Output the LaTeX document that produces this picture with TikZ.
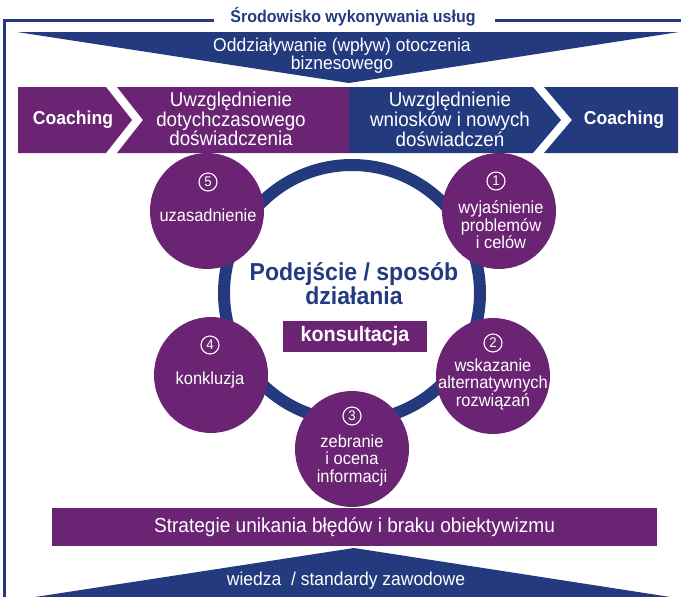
\documentclass[tikz,border=0pt]{standalone}
\usepackage{fontspec}
\setmainfont[FakeStretch=0.94]{Liberation Sans}
\usetikzlibrary{shapes.geometric}
\definecolor{pur}{RGB}{107,36,115}
\definecolor{blu}{RGB}{35,58,126}
\tikzset{
  wtxt/.style={text=white, align=center, inner sep=0pt},
  bub/.style={ellipse, fill=pur, minimum width=114pt, minimum height=116pt, inner sep=0pt},
  numc/.style={circle, draw=white, line width=1.1pt, text=white, inner sep=0pt, minimum size=18pt, font=\fontsize{14}{14}\selectfont},
  bubtxt/.style={wtxt, font=\fontsize{17.5}{17.5}\selectfont},
}
\begin{document}
\begin{tikzpicture}[x=1pt,y=-1pt]
\useasboundingbox (0,0) rectangle (681,597);
\begin{scope}
\clip (0,0) rectangle (681,597);
% frame
\draw[blu, line width=3pt] (4,597) -- (4,20) -- (214,20);
\draw[blu, line width=3pt] (495,20) -- (683,20);
\node[text=blu, font=\bfseries\fontsize{17}{17}\selectfont, inner sep=0pt] (title) at (353,17) {Środowisko wykonywania usług};
% top triangle
\fill[blu] (17,32) -- (679,32) -- (349,83) -- cycle;
\node[wtxt, font=\fontsize{18.6}{15}\selectfont] (env) at (342,56) {Oddziaływanie (wpływ) otoczenia\\biznesowego};
% band
\fill[pur] (18,87) -- (106,87) -- (132,120) -- (106,153) -- (18,153) -- cycle;
\fill[pur] (117,87) -- (350,87) -- (350,153) -- (117,153) -- (143,120) -- cycle;
\fill[blu] (349,87) -- (533,87) -- (561,120) -- (533,153) -- (349,153) -- cycle;
\fill[blu] (544,87) -- (678,87) -- (678,153) -- (544,153) -- (572,120) -- cycle;
\node[wtxt, font=\bfseries\fontsize{18.7}{18.7}\selectfont] (coachL) at (73,120) {Coaching};
\node[wtxt, font=\fontsize{20}{17}\selectfont] (prev) at (231,119) {Uwzględnienie\\dotychczasowego\\doświadczenia};
\node[wtxt, font=\fontsize{20}{17}\selectfont] (new) at (450,119) {Uwzględnienie\\wniosków i nowych\\doświadczeń};
\node[wtxt, font=\bfseries\fontsize{18.7}{18.7}\selectfont] (coachR) at (624,120) {Coaching};
% ring
\draw[blu, line width=12pt] (352,293) circle[radius=128];
% bubbles
\node[bub] (c5) at (207,211) {};
\node[bub] (c1) at (499,211) {};
\node[bub] (c4) at (211,375) {};
\node[bub] (c2) at (493,376) {};
\node[bub] (c3) at (352,449) {};
\node[numc] (n5) at (208,182) {5};
\node[numc] (n1) at (496,181) {1};
\node[numc] (n4) at (210,345) {4};
\node[numc] (n2) at (493,343) {2};
\node[numc] (n3) at (352,416) {3};
\node[bubtxt] (t5) at (208,215) {uzasadnienie};
\node[bubtxt] (t1) at (501,225) {wyjaśnienie\\problemów\\i celów};
\node[bubtxt] (t4) at (210,380) {konkluzja};
\node[bubtxt] (t2) at (493,384) {wskazanie\\alternatywnych\\rozwiązań};
\node[bubtxt] (t3) at (352,460) {zebranie\\i ocena\\informacji};
% centre
\node[text=blu, align=center, inner sep=0pt, font=\bfseries\fontsize{24.5}{21}\selectfont] (appr) at (354,284) {Podejście / sposób\\działania};
\node[fill=pur, text=white, minimum width=144pt, minimum height=31pt, inner sep=0pt, font=\bfseries\fontsize{21}{21}\selectfont] (kons) at (355,336.5) {konsultacja};
% strategy bar
\node[fill=pur, text=white, minimum width=605pt, minimum height=38pt, inner sep=0pt, font=\fontsize{20.3}{20.3}\selectfont] (strat) at (354.5,527) {Strategie unikania błędów i braku obiektywizmu};
% bottom triangle
\fill[blu] (354,548) -- (-30,607) -- (735,607) -- cycle;
\node[wtxt, font=\fontsize{18.6}{18.6}\selectfont] (know) at (346,581) {wiedza \ / standardy zawodowe};
\end{scope}
\end{tikzpicture}
\end{document}
